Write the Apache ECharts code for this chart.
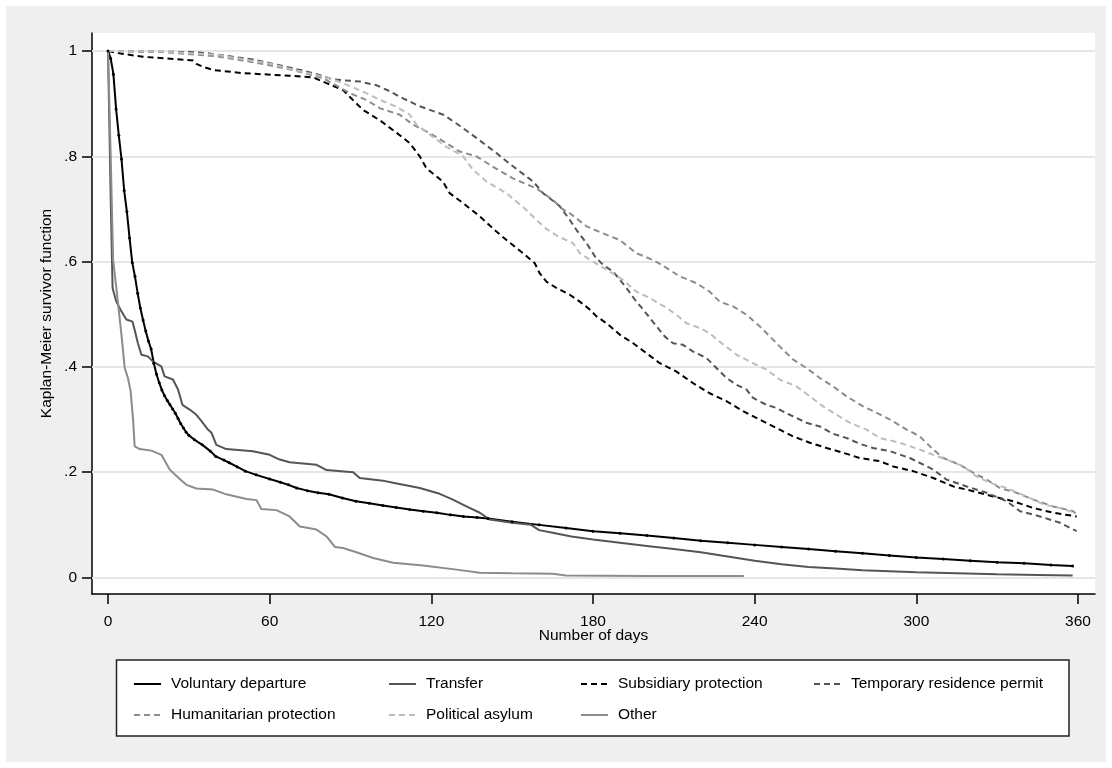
<!DOCTYPE html>
<html>
<head>
<meta charset="utf-8">
<script src="https://cdn.jsdelivr.net/npm/echarts@6/dist/echarts.min.js"></script>
<style>
  html, body { margin: 0; padding: 0; background: #ffffff; }
  #chart { width: 1112px; height: 768px; }
</style>
</head>
<body>
<div id="chart"></div>
<script>
// ---- Data (days, Kaplan-Meier survivor function) ----
const xTicks = [0, 60, 120, 180, 240, 300, 360];
const yTicks = [0, 0.2, 0.4, 0.6, 0.8, 1];
const seriesNames = ["Voluntary departure", "Transfer", "Subsidiary protection", "Temporary residence permit",
                     "Humanitarian protection", "Political asylum", "Other"];

const voluntaryDeparture = [[0,1],[1,0.986],[2,0.956],[3,0.89],[4,0.84],[5,0.795],[6,0.735],[7,0.695],[8,0.645],[9,0.598],[10,0.572],[11,0.540],[12,0.512],[13,0.489],[14,0.468],[15,0.449],[16,0.434],[17,0.407],[18,0.386],[19,0.370],[20,0.356],[21,0.345],[22,0.336],[23,0.328],[24,0.320],[25,0.312],[26,0.302],[27,0.292],[28,0.284],[29,0.276],[30,0.270],[32,0.262],[35,0.252],[38,0.240],[40,0.230],[43,0.223],[45,0.218],[48,0.210],[51,0.202],[55,0.195],[60,0.187],[64,0.181],[67,0.176],[70,0.170],[74,0.165],[78,0.161],[82,0.158],[87,0.151],[92,0.145],[97,0.141],[102,0.137],[107,0.133],[112,0.129],[117,0.126],[122,0.123],[127,0.119],[132,0.116],[137,0.114],[141,0.112],[150,0.106],[160,0.100],[170,0.094],[180,0.088],[190,0.084],[200,0.080],[210,0.075],[220,0.070],[230,0.066],[240,0.062],[250,0.058],[260,0.054],[270,0.050],[280,0.046],[290,0.042],[300,0.038],[310,0.035],[320,0.032],[330,0.029],[340,0.027],[350,0.024],[358,0.022]];

const transfer = [[0,1],[1,0.72],[1.7,0.55],[3,0.525],[4.6,0.509],[6.8,0.49],[9.1,0.486],[9.9,0.47],[11.1,0.445],[12.4,0.423],[14.8,0.42],[16.7,0.41],[19.8,0.401],[21,0.382],[24.1,0.376],[26,0.357],[27.6,0.328],[30.3,0.319],[32.8,0.309],[34.7,0.297],[37.1,0.281],[38.4,0.275],[40.2,0.252],[43.9,0.244],[53.8,0.24],[60,0.233],[63.7,0.224],[67.4,0.219],[77.4,0.214],[81.1,0.204],[91,0.2],[93.4,0.189],[102,0.184],[105.8,0.18],[115.7,0.17],[123.1,0.159],[128,0.148],[133,0.135],[138,0.123],[141.7,0.11],[150,0.104],[157,0.1],[160,0.09],[165,0.085],[172,0.078],[180,0.072],[190,0.066],[200,0.06],[210,0.054],[220,0.048],[230,0.04],[240,0.032],[250,0.025],[260,0.02],[270,0.017],[280,0.014],[290,0.012],[300,0.01],[315,0.008],[330,0.006],[345,0.005],[358,0.004]];

const subsidiaryProtection = [[0,1],[5,0.995],[13,0.989],[31.6,0.982],[33,0.975],[35.3,0.97],[39,0.964],[50,0.958],[67.4,0.953],[76.1,0.95],[81.1,0.939],[87.2,0.926],[90.9,0.907],[94.7,0.888],[101,0.868],[107,0.845],[112,0.825],[115.7,0.8],[118.2,0.777],[124.3,0.752],[126.8,0.73],[131.8,0.711],[138,0.686],[143.5,0.66],[147.9,0.641],[154,0.616],[158.4,0.597],[160.2,0.578],[162.7,0.562],[166.4,0.55],[171.4,0.537],[175.1,0.524],[178.8,0.509],[181.3,0.496],[185,0.483],[190,0.461],[194.9,0.445],[199.9,0.426],[204.8,0.407],[211,0.391],[217.2,0.369],[223.3,0.35],[229.5,0.335],[235.7,0.316],[241.9,0.3],[248.1,0.284],[254.3,0.268],[260.5,0.256],[266.7,0.246],[272.8,0.237],[279,0.227],[286.4,0.221],[291.4,0.211],[298.8,0.202],[306.3,0.189],[313.7,0.173],[321.1,0.164],[328.5,0.154],[335.9,0.145],[343.4,0.132],[350.8,0.123],[359.5,0.116]];

const temporaryResidence = [[0,1],[30,0.998],[36.5,0.996],[46.4,0.989],[53.8,0.984],[66.2,0.97],[76.1,0.958],[83.5,0.946],[93.4,0.942],[99.6,0.935],[104,0.925],[108.3,0.913],[115.7,0.895],[124.5,0.879],[130.8,0.857],[136.7,0.835],[144.2,0.806],[150.3,0.781],[157.8,0.752],[161.5,0.73],[167.7,0.705],[171.4,0.679],[173.9,0.66],[177.6,0.635],[180.7,0.61],[183.7,0.594],[187.5,0.581],[192.4,0.55],[195.5,0.528],[198.6,0.509],[201.1,0.493],[203.6,0.477],[206.6,0.458],[209.7,0.445],[213.4,0.442],[217.2,0.429],[222.1,0.417],[225.8,0.398],[229.5,0.379],[233.3,0.366],[237,0.357],[239.4,0.341],[244.4,0.328],[248.1,0.322],[251.8,0.312],[255.5,0.303],[259.2,0.294],[264.2,0.287],[269.1,0.273],[274.1,0.265],[279,0.254],[283.9,0.246],[290.2,0.240],[297.6,0.227],[306.3,0.205],[311.2,0.186],[318.7,0.173],[326.1,0.161],[333.5,0.145],[338.5,0.126],[345.9,0.116],[353.3,0.104],[359.5,0.088]];

const humanitarianProtection = [[0,1],[20,0.998],[40,0.99],[50,0.982],[60,0.973],[70,0.962],[80,0.948],[89.7,0.92],[95.9,0.907],[101,0.891],[108.3,0.879],[113.2,0.86],[119.4,0.844],[125.6,0.825],[130.5,0.809],[136.7,0.8],[142.9,0.78],[150.3,0.758],[159,0.739],[165.2,0.717],[168.3,0.701],[171.4,0.692],[177.6,0.667],[183,0.655],[190,0.641],[196.1,0.616],[202.3,0.603],[207.3,0.588],[212.2,0.572],[218.4,0.559],[223.3,0.543],[227,0.524],[232,0.515],[237,0.499],[241.9,0.477],[245.6,0.458],[249.3,0.439],[254.3,0.414],[259.2,0.398],[264.2,0.379],[269.1,0.363],[274.1,0.344],[280.3,0.325],[286.4,0.31],[290.2,0.3],[296.4,0.281],[301.3,0.268],[306.3,0.243],[310,0.227],[316.2,0.214],[321.1,0.199],[326.1,0.186],[331,0.17],[337.2,0.161],[343.4,0.148],[350.8,0.135],[358.2,0.126],[359.5,0.12]];

const politicalAsylum = [[0,1],[20,0.999],[40,0.993],[60,0.976],[70,0.963],[80,0.951],[84,0.945],[90.9,0.931],[97.1,0.917],[101,0.907],[107,0.894],[112,0.879],[114.5,0.86],[120.6,0.837],[125.6,0.818],[131.8,0.8],[135.5,0.774],[140.5,0.752],[147.9,0.73],[155.3,0.698],[159,0.679],[162.7,0.662],[167,0.648],[172.6,0.635],[175.1,0.616],[180,0.6],[186.2,0.581],[191.2,0.565],[196.1,0.543],[201.1,0.531],[207.3,0.512],[211,0.499],[214.7,0.483],[219.6,0.474],[223.3,0.464],[227,0.448],[233.3,0.423],[239.4,0.407],[244.4,0.395],[249.3,0.376],[255.5,0.363],[260.5,0.344],[265.4,0.325],[270.4,0.309],[275.3,0.294],[281.5,0.281],[286.4,0.265],[293.8,0.256],[301.3,0.243],[306.3,0.233],[311.2,0.224],[317.4,0.211],[322.3,0.192],[327.3,0.18],[333.5,0.17],[340.9,0.154],[347.1,0.139],[353.3,0.132],[358.8,0.123]];

const other = [[0,1],[1,0.8],[1.9,0.603],[3.1,0.55],[5,0.461],[6.2,0.398],[7.4,0.379],[8.4,0.354],[9.3,0.30],[9.9,0.249],[11.8,0.244],[16.1,0.241],[19.8,0.233],[22.9,0.205],[26,0.19],[29.1,0.176],[32.8,0.169],[39,0.167],[43.9,0.158],[51.4,0.149],[55.1,0.147],[56.9,0.13],[62.5,0.128],[67.4,0.116],[71.2,0.097],[77.4,0.091],[81.1,0.078],[84.2,0.058],[87.2,0.056],[92.2,0.048],[98.4,0.037],[105.8,0.028],[116.9,0.023],[129.3,0.015],[138,0.009],[150,0.008],[165,0.007],[170,0.004],[200,0.003],[236,0.003]];

// ---- Chart ----
const FONT = "'Liberation Sans', Arial, Helvetica, sans-serif";
const FS = 15.5;
const chart = echarts.init(document.getElementById('chart'), null, { renderer: 'canvas' });

const styles = [
  { data: voluntaryDeparture, color: '#000000', type: 'solid', sym: true },
  { data: transfer, color: '#555555', type: 'solid' },
  { data: subsidiaryProtection, color: '#000000', type: [6, 4] },
  { data: temporaryResidence, color: '#555555', type: [6, 4] },
  { data: humanitarianProtection, color: '#8c8c8c', type: [6, 4] },
  { data: politicalAsylum, color: '#bdbdbd', type: [6, 4] },
  { data: other, color: '#8c8c8c', type: 'solid' }
];

const series = styles.map((s, i) => ({
  name: seriesNames[i],
  type: 'line',
  data: s.data,
  z: 3,
  symbol: s.sym ? 'circle' : 'none',
  symbolSize: 3,
  showSymbol: !!s.sym,
  showAllSymbol: true,
  itemStyle: { color: s.color },
  lineStyle: { color: s.color, width: 2, type: s.type },
  emphasis: { disabled: true },
  animation: false
}));

// grid lines drawn through the y axis scale
series.push({
  name: '__grid',
  type: 'line',
  data: [],
  z: 1,
  silent: true,
  markLine: {
    z: 1,
    silent: true,
    symbol: ['none', 'none'],
    label: { show: false },
    lineStyle: { color: '#e6e6e6', width: 2, type: 'solid' },
    data: yTicks.map(v => ({ yAxis: v }))
  },
  animation: false
});

// legend placement: 4 columns, 2 rows
const legendCols = [128, 383, 575, 808];
const legendRows = [671, 702];
const legends = seriesNames.map((name, i) => ({
  data: [name],
  left: legendCols[i % 4],
  top: legendRows[Math.floor(i / 4)],
  itemWidth: 27,
  itemHeight: 14,
  itemStyle: { opacity: 0 },
  selectedMode: false,
  textStyle: { fontFamily: FONT, fontSize: FS, color: '#000', padding: [0, 0, 0, 5] }
}));

const option = {
  backgroundColor: '#ffffff',
  animation: false,
  graphic: [
    { type: 'rect', z: -100, silent: true, shape: { x: 6, y: 6, width: 1100, height: 756 }, style: { fill: '#efefef' } },
    { type: 'rect', z: -50, silent: true, shape: { x: 116.5, y: 660, width: 952.5, height: 76 }, style: { fill: '#ffffff', stroke: '#222222', lineWidth: 1.5 } }
  ],
  grid: {
    left: 92, top: 33, width: 1003, height: 561,
    show: true, backgroundColor: '#ffffff', borderWidth: 0,
    containLabel: false
  },
  legend: legends,
  xAxis: {
    type: 'value',
    min: -5.94, max: 366.31,
    name: 'Number of days',
    nameLocation: 'middle',
    nameGap: 34,
    nameMoveOverlap: false,
    nameTextStyle: { fontFamily: FONT, fontSize: FS, color: '#000' },
    axisLine: { show: true, onZero: false, lineStyle: { color: '#000', width: 1.5 } },
    axisTick: { show: true, length: 10, inside: false, customValues: xTicks, lineStyle: { color: '#000', width: 1.5 } },
    axisLabel: { show: true, margin: 20, customValues: xTicks, fontFamily: FONT, fontSize: FS, color: '#000' },
    splitLine: { show: false }
  },
  yAxis: {
    type: 'value',
    min: -0.0313, max: 1.0342,
    name: 'Kaplan-Meier survivor function',
    nameLocation: 'middle',
    nameGap: 37,
    nameMoveOverlap: false,
    nameRotate: 90,
    nameTextStyle: { fontFamily: FONT, fontSize: FS, color: '#000' },
    axisLine: { show: true, onZero: false, lineStyle: { color: '#000', width: 1.5 } },
    axisTick: { show: true, length: 10, inside: false, customValues: yTicks, lineStyle: { color: '#000', width: 1.5 } },
    axisLabel: {
      show: true, margin: 15, customValues: yTicks, fontFamily: FONT, fontSize: FS, color: '#000',
      formatter: v => {
        const r = Math.round(v * 10) / 10;
        if (r === 0) return '0';
        if (r === 1) return '1';
        return String(r).replace(/^0/, '');
      }
    },
    splitLine: { show: false }
  },
  series: series
};

chart.setOption(option);
</script>
</body>
</html>
